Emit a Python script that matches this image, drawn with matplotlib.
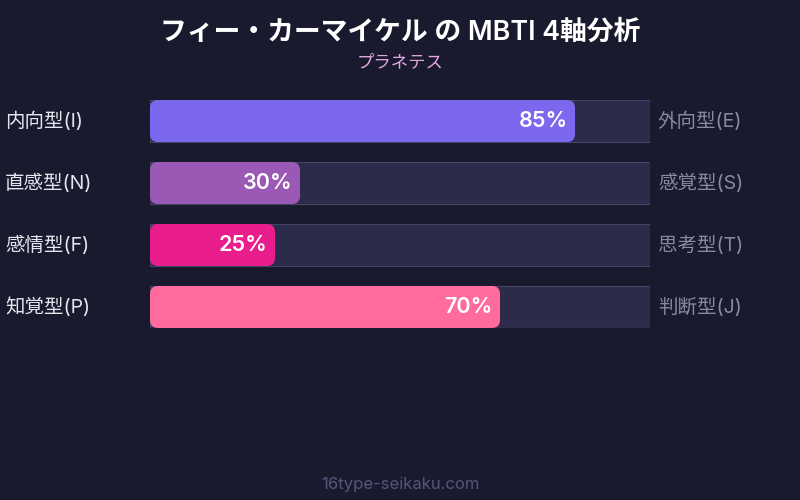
import matplotlib
matplotlib.use("Agg")
import matplotlib.pyplot as plt
from matplotlib.patches import FancyBboxPatch

plt.rcParams['font.family'] = ['Inter', 'Noto Sans CJK JP', 'DejaVu Sans']

title = "フィー・カーマイケル の MBTI 4軸分析"
subtitle = "プラネテス"
left_labels = ["内向型(I)", "直感型(N)", "感情型(F)", "知覚型(P)"]
right_labels = ["外向型(E)", "感覚型(S)", "思考型(T)", "判断型(J)"]
values = [85, 30, 25, 70]
colors = ["#7b68ee", "#9b59b6", "#e91e8c", "#ff6b9d"]
footer = "16type-seikaku.com"

BG = "#1a1a2e"
W, H = 800, 500
fig = plt.figure(figsize=(8, 5), dpi=100, facecolor=BG)

# axes covering track area: x 150..650 px, y 100..328 px
ax = fig.add_axes([150 / W, 1 - 328 / H, 500 / W, 228 / H])
ax.set_facecolor(BG)
ax.set_xlim(0, 100)
half = 0.339
ax.set_ylim(len(values) - 1 + half, -half)
ax.axis('off')

bh = 42 / 62
px_x = 500 / 100   # px per x unit
px_y = 62          # px per y unit
aspect = px_x / px_y
rad = 8 / px_x

for i, (v, c) in enumerate(zip(values, colors)):
    ax.barh(i, 100, height=bh, left=0, color="#2d2b4a", edgecolor="#45456a", linewidth=0.8, zorder=1)
    p = FancyBboxPatch((0, i - bh / 2), v, bh,
                       boxstyle=f"round,pad=0,rounding_size={rad}",
                       mutation_aspect=aspect, facecolor=c, edgecolor='none', zorder=2)
    ax.add_patch(p)
    ax.text(v - 1.5, i + 0.0, f"{v}%", ha='right', va='center', color='white',
            fontsize=15.5, fontweight='semibold', zorder=3)
    ax.text(-29, i, left_labels[i], ha='left', va='center', color='#e6e6ee', fontsize=14,
            clip_on=False)
    ax.text(101.6, i, right_labels[i], ha='left', va='center', color='#8a8a9e', fontsize=14,
            clip_on=False)

fig.text(0.5, 1 - 33 / H, title, ha='center', va='center', color='white', fontsize=19.3,
         fontweight='semibold')
fig.text(0.5, 1 - 63 / H, subtitle, ha='center', va='center', color='#e3a6e3', fontsize=12.5)
fig.text(0.5, 1 - 484 / H, footer, ha='center', va='center', color='#55557a', fontsize=12)

fig.savefig("out.png", dpi=100, facecolor=BG)
